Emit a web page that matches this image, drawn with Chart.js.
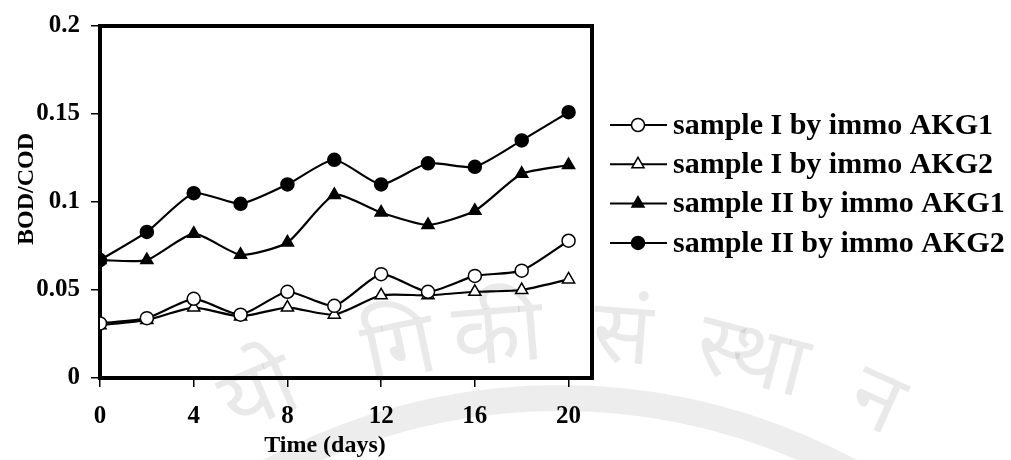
<!DOCTYPE html>
<html>
<head>
<meta charset="utf-8">
<script src="https://cdn.jsdelivr.net/npm/chart.js@4.4.1/dist/chart.umd.min.js"></script>
<style>
  html, body { margin: 0; padding: 0; background: #ffffff; }
  #wrap { width: 1011px; height: 460px; position: relative; }
</style>
</head>
<body>
<div id="wrap"><canvas id="c" width="1011" height="460"></canvas></div>
<script>
// Sampling days and BOD/COD ratios for each sample / immobilised culture
const days = [0, 2, 4, 6, 8, 10, 12, 14, 16, 18, 20];
const sampleI_AKG1  = [0.031, 0.034, 0.045, 0.036, 0.049, 0.041, 0.059, 0.049, 0.058, 0.061, 0.078];
const sampleI_AKG2  = [0.030, 0.033, 0.040, 0.035, 0.040, 0.036, 0.047, 0.047, 0.049, 0.050, 0.056];
const sampleII_AKG1 = [0.067, 0.067, 0.082, 0.070, 0.077, 0.104, 0.094, 0.087, 0.095, 0.116, 0.121];
const sampleII_AKG2 = [0.067, 0.083, 0.105, 0.099, 0.110, 0.124, 0.110, 0.122, 0.120, 0.135, 0.151];

const seriesNames = [
  'sample I by immo AKG1',
  'sample I by immo AKG2',
  'sample II by immo AKG1',
  'sample II by immo AKG2'
];

const xTickValues = [0, 4, 8, 12, 16, 20];
const yTickValues = [0, 0.05, 0.1, 0.15, 0.2];
const yTickLabels = ['0', '0.05', '0.1', '0.15', '0.2'];
const xTitle = 'Time (days)';
const yTitle = 'BOD/COD';
// Watermark syllables, kept as whole clusters so the script shapes correctly
const watermarkSyllables = ['यो', 'गि', 'की', 'सं', 'स्था', 'न'];
const watermarkCentres = [270, 405, 500, 620, 745, 865];

const SERIF = '"Liberation Serif", "Times New Roman", serif';

function points(values) {
  return values.map((v, i) => ({ x: days[i], y: v }));
}

function series(label, values, style, filled) {
  return {
    label: label,
    data: points(values),
    borderColor: '#000000',
    borderWidth: 2.2,
    tension: 0.2,
    pointStyle: style,
    pointRadius: style === 'triangle' ? 7 : 6.5,
    pointBorderWidth: 1.5,
    pointBorderColor: '#000000',
    pointBackgroundColor: filled ? '#000000' : '#ffffff',
    fill: false
  };
}

// Faint institute watermark behind the plot
const watermark = {
  id: 'watermark',
  beforeDraw(chart) {
    const ctx = chart.ctx;
    ctx.save();
    ctx.strokeStyle = 'rgba(0,0,0,0.07)';
    ctx.lineWidth = 26;
    ctx.beginPath();
    ctx.arc(560, 1010, 612, Math.PI * 1.25, Math.PI * 1.75);
    ctx.stroke();
    ctx.fillStyle = 'rgba(0,0,0,0.085)';
    ctx.font = '88px "Noto Sans", "DejaVu Sans", sans-serif';
    ctx.textAlign = 'center';
    ctx.textBaseline = 'alphabetic';
    const cx = 560, cy = 1100, r = 740;
    watermarkSyllables.forEach((syl, i) => {
      const a = Math.asin((watermarkCentres[i] - cx) / r);
      ctx.save();
      ctx.translate(cx + r * Math.sin(a), cy - r * Math.cos(a));
      ctx.rotate(a);
      ctx.fillText(syl, 0, 0);
      ctx.restore();
    });
    ctx.restore();
  }
};

// Closed frame around the plotting area
const frame = {
  id: 'frame',
  beforeDatasetsDraw(chart) {
    const a = chart.chartArea;
    const ctx = chart.ctx;
    ctx.save();
    ctx.strokeStyle = '#000000';
    ctx.lineWidth = 4;
    ctx.strokeRect(a.left, a.top, a.right - a.left, a.bottom - a.top);
    ctx.restore();
  }
};

// Axis titles
const axisTitles = {
  id: 'axisTitles',
  afterDraw(chart) {
    const ctx = chart.ctx;
    ctx.save();
    ctx.fillStyle = '#000000';
    ctx.font = 'bold 24px ' + SERIF;
    ctx.textAlign = 'center';
    ctx.textBaseline = 'middle';
    ctx.fillText(xTitle, 325, 446);
    ctx.translate(27, 189);
    ctx.rotate(-Math.PI / 2);
    ctx.fillText(yTitle, 0, 0);
    ctx.restore();
  }
};

// Legend: line with marker, then the series name
const sideLegend = {
  id: 'sideLegend',
  afterDraw(chart) {
    const ctx = chart.ctx;
    const H = Chart.helpers;
    ctx.save();
    chart.data.datasets.forEach((ds, i) => {
      const y = 125 + i * 39.3;
      ctx.strokeStyle = '#000000';
      ctx.lineWidth = 2;
      ctx.beginPath();
      ctx.moveTo(610, y);
      ctx.lineTo(667, y);
      ctx.stroke();
      ctx.fillStyle = ds.pointBackgroundColor;
      ctx.strokeStyle = ds.pointBorderColor;
      ctx.lineWidth = ds.pointBorderWidth;
      H.drawPoint(ctx, {
        pointStyle: ds.pointStyle,
        radius: ds.pointRadius,
        borderWidth: ds.pointBorderWidth,
        rotation: 0
      }, 638, y);
      ctx.fillStyle = '#000000';
      ctx.font = 'bold 30px ' + SERIF;
      ctx.textAlign = 'left';
      ctx.textBaseline = 'middle';
      ctx.fillText(ds.label, 673, y + 1);
    });
    ctx.restore();
  }
};

new Chart(document.getElementById('c'), {
  type: 'line',
  data: {
    datasets: [
      series(seriesNames[0], sampleI_AKG1, 'circle', false),
      series(seriesNames[1], sampleI_AKG2, 'triangle', false),
      series(seriesNames[2], sampleII_AKG1, 'triangle', true),
      series(seriesNames[3], sampleII_AKG2, 'circle', true)
    ]
  },
  options: {
    responsive: false,
    animation: false,
    devicePixelRatio: 1,
    layout: { padding: { left: 0, top: 17, right: 419, bottom: 0 } },
    plugins: {
      legend: { display: false },
      tooltip: { enabled: false }
    },
    scales: {
      x: {
        type: 'linear',
        min: 0,
        max: 21,
        afterBuildTicks(scale) { scale.ticks = xTickValues.map(v => ({ value: v })); },
        afterFit(scale) { scale.height = 82; },
        border: { display: true, color: '#000000', width: 4 },
        grid: { display: true, drawOnChartArea: false, drawTicks: true, tickLength: 9, color: '#000000', lineWidth: 1.5 },
        ticks: {
          color: '#000000',
          padding: 15,
          maxRotation: 0,
          font: { family: SERIF, size: 25, weight: 'bold' },
          callback: v => String(v)
        }
      },
      y: {
        type: 'linear',
        min: 0,
        max: 0.2,
        afterBuildTicks(scale) { scale.ticks = yTickValues.map(v => ({ value: v })); },
        afterFit(scale) { scale.width = 100; },
        border: { display: true, color: '#000000', width: 4 },
        grid: { display: true, drawOnChartArea: false, drawTicks: true, tickLength: 9, color: '#000000', lineWidth: 1.5 },
        ticks: {
          color: '#000000',
          padding: 11,
          font: { family: SERIF, size: 25, weight: 'bold' },
          callback: (v, i) => yTickLabels[i]
        }
      }
    }
  },
  plugins: [watermark, frame, axisTitles, sideLegend]
});
</script>
</body>
</html>
